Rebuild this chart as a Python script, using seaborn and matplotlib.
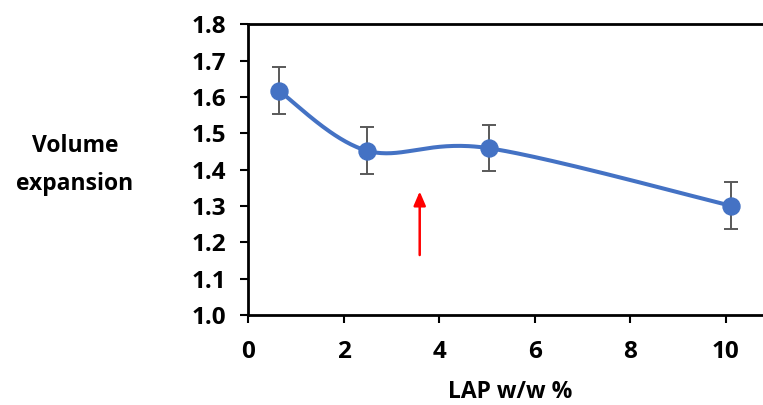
import numpy as np
import pandas as pd
import seaborn as sns
import matplotlib.pyplot as plt

# Volume expansion vs. LAP loading
lap_pct = [0.64, 2.49, 5.04, 10.10]
expansion = [1.617, 1.452, 1.459, 1.301]
err = [0.065, 0.064, 0.064, 0.065]
x_ticks = [0, 2, 4, 6, 8, 10]
y_ticks = [1.0, 1.1, 1.2, 1.3, 1.4, 1.5, 1.6, 1.7, 1.8]
arrow_x = 3.59
arrow_from, arrow_to = 1.165, 1.34

sns.set_theme(style="white")
plt.rcParams['font.family'] = ['Open Sans', 'DejaVu Sans']
plt.rcParams['font.weight'] = 'bold'

df = pd.DataFrame({"lap": lap_pct, "exp": expansion, "err": err})

fig = plt.figure(figsize=(7.63, 4.05), dpi=100)
ax = fig.add_axes([248.3 / 763, 1 - 315 / 405, 1 - 248.3 / 763, (315 - 24.3) / 405])

xmin, xmax = 0, 10.78
ymin, ymax = 1.0, 1.8
ax.set_xlim(xmin, xmax)
ax.set_ylim(ymin, ymax)

# smoothed curve through the points (Catmull-Rom in screen-proportional space)
sx = 1.0 / (xmax - xmin) * 514.7
sy = 1.0 / (ymax - ymin) * 290.7
P = np.column_stack([df["lap"].to_numpy() * sx, df["exp"].to_numpy() * sy])
curve = []
n = len(P)
for i in range(n - 1):
    p0 = P[i - 1] if i > 0 else P[i]
    p1, p2 = P[i], P[i + 1]
    p3 = P[i + 2] if i + 2 < n else P[i + 1]
    c1 = p1 + (p2 - p0) / 6
    c2 = p2 - (p3 - p1) / 6
    t = np.linspace(0, 1, 60)[:, None]
    seg = ((1 - t) ** 3) * p1 + 3 * ((1 - t) ** 2) * t * c1 + 3 * (1 - t) * t ** 2 * c2 + t ** 3 * p2
    curve.append(seg)
curve = np.vstack(curve)
smooth = pd.DataFrame({"x": curve[:, 0] / sx, "y": curve[:, 1] / sy})

sns.lineplot(data=smooth, x="x", y="y", sort=False, color="#4472C4", lw=2.9, ax=ax, zorder=2)
ax.errorbar(df["lap"], df["exp"], yerr=df["err"], fmt="none", ecolor="#595959",
            elinewidth=1.4, capsize=5, capthick=1.4, zorder=3)
sns.scatterplot(data=df, x="lap", y="exp", s=150, color="#4472C4", edgecolor="#4472C4",
                ax=ax, zorder=4)

ax.annotate("", xy=(arrow_x, arrow_to), xytext=(arrow_x, arrow_from),
            arrowprops=dict(arrowstyle="-|>,head_length=0.7,head_width=0.3",
                            color="red", lw=1.8, shrinkA=0, shrinkB=0))

ax.set_xticks(x_ticks)
ax.set_yticks(y_ticks)
ax.set_xticklabels([str(v) for v in x_ticks])
ax.set_yticklabels([f"{v:.1f}" for v in y_ticks])
ax.tick_params(axis="both", direction="out", length=6, width=1.5, color="black",
               labelsize=17.5, labelcolor="black", bottom=True, left=True)
ax.tick_params(axis="y", pad=10)
ax.tick_params(axis="x", pad=12)
for lab in ax.get_xticklabels() + ax.get_yticklabels():
    lab.set_fontweight("bold")

for side in ["left", "bottom", "top"]:
    ax.spines[side].set_visible(True)
    ax.spines[side].set_color("black")
    ax.spines[side].set_linewidth(2)
ax.spines["right"].set_visible(False)

ax.set_xlabel("")
ax.set_ylabel("")
fig.text(510 / 763, 1 - 392 / 405, "LAP w/w %", ha="center", va="center",
         fontsize=16.5, fontweight="bold", color="black")
fig.text(75 / 763, 1 - 165 / 405, "Volume\nexpansion", ha="center", va="center",
         fontsize=16.5, fontweight="bold", color="black", linespacing=1.75)

fig.savefig("out.png", dpi=100)
